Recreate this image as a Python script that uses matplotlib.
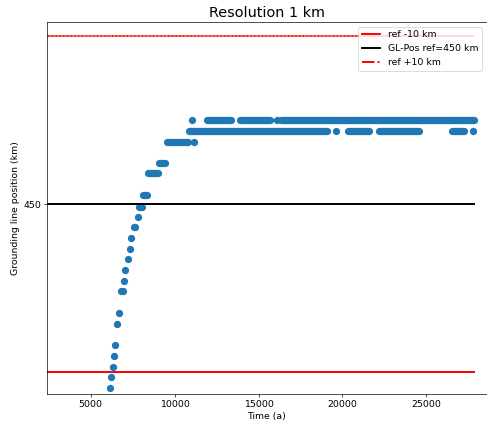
import matplotlib.pyplot as plt
from matplotlib.lines import Line2D

# grounding line position (time in a, position in km)
step_t = [6152, 6229, 6313, 6390, 6468, 6573, 6692, 6830, 6910, 6969, 7065,
          7208, 7327, 7423, 7560, 7650, 7804, 11045, 11164, 16116, 19638, 27813]
step_y = [439.05, 439.70, 440.30, 440.95, 441.61, 442.86, 443.51, 444.82, 444.82,
          445.42, 446.07, 446.73, 447.32, 447.98, 448.63, 448.63, 449.23,
          455.00, 453.69, 455.00, 454.35, 454.35]

# stretches where output points sit so close they form a bar
span_y = [449.82, 450.54, 451.85, 452.44, 453.69,
          454.35, 454.35, 454.35, 454.35,
          455.00, 455.00, 455.00]
span_start = [7882, 8121, 8419, 9060, 9553,
              10866, 20354, 22204, 26560,
              11940, 13909, 16355]
span_end = [8061, 8360, 9016, 9447, 10806,
            19101, 21607, 24591, 27276,
            13372, 15699, 27871]

ref = 450
line_t = [0, 27870]

blue = "#1f77b4"
dot = 8.6  # marker diameter in points

plt.rcParams["font.size"] = 11

fig, ax = plt.subplots(figsize=(487 / 61, 425 / 61), dpi=61)
fig.subplots_adjust(left=0.0965, right=0.999, top=0.948, bottom=0.073)

ax.scatter(step_t, step_y, s=dot ** 2, color=blue, linewidths=0)
for y, t0, t1 in zip(span_y, span_start, span_end):
    ax.plot([t0, t1], [y, y], color=blue, lw=dot, solid_capstyle="round", zorder=1)

l1, = ax.plot(line_t, [ref - 10] * 2, color="red", lw=2.3, label="ref -10 km")
l2, = ax.plot(line_t, [ref] * 2, color="black", lw=2.3, label="GL-Pos ref=450 km")
ax.plot(line_t, [ref + 10] * 2, color="red", lw=2.3, linestyle=(0, (0.5, 0.2)))
l3 = Line2D([], [], color="red", lw=2.3, linestyle="-.", label="ref +10 km")

ax.legend(handles=[l1, l2, l3], loc="upper right")
ax.set_xlim(2390, 28590)
ax.set_ylim(438.69, 460.83)
ax.set_yticks([450])
ax.set_xticks([5000, 10000, 15000, 20000, 25000])
ax.set_xlabel("Time (a)")
ax.set_ylabel("Grounding line position (km)")
ax.set_title("Resolution 1 km", fontsize=17)

plt.savefig("out.png", dpi=61)
